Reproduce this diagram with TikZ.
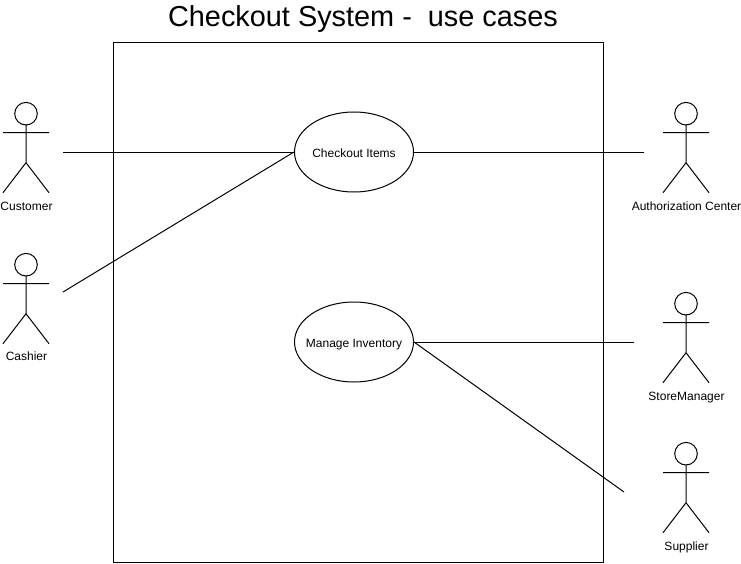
\documentclass[tikz,border=0pt]{standalone}
\usepackage{fontspec}
\setmainfont{Liberation Sans}
\usetikzlibrary{shapes.geometric}
\newcommand{\labstrut}{\rule[-3pt]{0pt}{13.8pt}}
\tikzset{
  actor/.pic={
    \draw[line width=0.75pt,fill=white] (0,0) circle (11.3);
    \draw[line width=0.75pt] (0,11) -- (0,49) (-23,19) -- (23,19) (-23,79) -- (0,49) -- (23,79);
  }
}
\begin{document}
\begin{tikzpicture}[
  x=0.75pt, y=-0.75pt,
  usecase/.style={ellipse, draw, line width=0.75pt, minimum width=89.25pt, minimum height=60pt, inner xsep=-20pt, inner ysep=0pt, font=\fontsize{9}{11}\selectfont, execute at begin node=\labstrut},
  lab/.style={font=\fontsize{9}{11}\selectfont, inner sep=0pt, execute at begin node=\labstrut},
  link/.style={line width=0.75pt},
]
\useasboundingbox (0,0) rectangle (741,563);

% ---- title and system box ----
\node[inner sep=0pt, font=\fontsize{21.65}{25}\selectfont] (title) at (363,19) {Checkout System -\ \ use cases};
\node[draw, line width=0.75pt, minimum width=367.5pt, minimum height=390pt, inner sep=0pt] (system) at (358.5,302.5) {};

% ---- use cases ----
\node[usecase] (checkout) at (354,152) {Checkout Items};
\node[usecase] (inventory) at (354,342) {Manage Inventory};

% ---- actors ----
\pic at (26,113.7) {actor};
\node[lab] (customer) at (26.5,205.5) {Customer};
\pic at (26,264.7) {actor};
\node[lab] (cashier) at (26.5,355.5) {Cashier};
\pic at (686,113.7) {actor};
\node[lab] (authcenter) at (686.5,205.5) {Authorization Center};
\pic at (686,303.7) {actor};
\node[lab] (storemanager) at (686.5,395.5) {StoreManager};
\pic at (686,453.7) {actor};
\node[lab] (supplier) at (686.5,545.5) {Supplier};

% ---- connector ends ----
\coordinate (customerend) at (63,152);
\coordinate (cashierend) at (63,292);
\coordinate (authend) at (644,152);
\coordinate (storeend) at (634,342);
\coordinate (supplierend) at (624,492);

% ---- arrows ----
\draw[link] (customerend) -- (checkout.west);
\draw[link] (cashierend) -- (checkout.west);
\draw[link] (checkout.east) -- (authend);
\draw[link] (inventory.east) -- (storeend);
\draw[link] (inventory.east) -- (supplierend);

\end{tikzpicture}
\end{document}
